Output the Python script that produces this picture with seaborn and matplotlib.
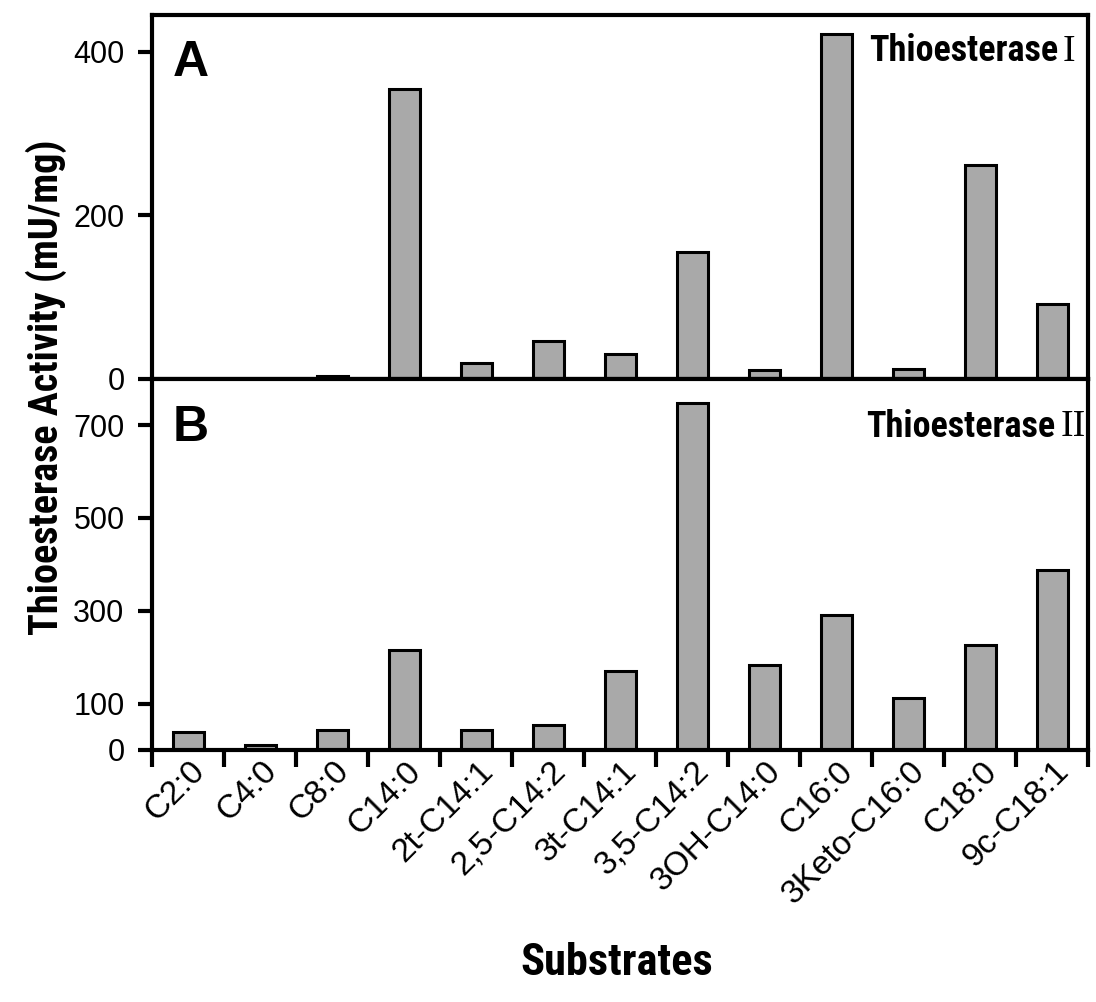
import numpy as np
import pandas as pd
import seaborn as sns
import matplotlib.pyplot as plt
from matplotlib import font_manager
from matplotlib.ticker import FixedLocator
from matplotlib.transforms import ScaledTranslation

substrates = ['C2:0', 'C4:0', 'C8:0', 'C14:0', '2t-C14:1', '2,5-C14:2', '3t-C14:1',
              '3,5-C14:2', '3OH-C14:0', 'C16:0', '3Keto-C16:0', 'C18:0', '9c-C18:1']
activity_te1 = [0, 0, 3, 355, 19, 46, 30, 155, 11, 422, 12, 261, 92]
activity_te2 = [39, 10, 44, 215, 44, 53, 171, 748, 183, 290, 111, 227, 387]

sns.set_style('ticks')
plt.rcParams['font.family'] = ['Liberation Sans', 'DejaVu Sans']
for k in ('text.color', 'axes.labelcolor', 'xtick.color', 'ytick.color', 'axes.edgecolor'):
    plt.rcParams[k] = 'black'

# narrow bold face for the titles, if one is installed
names = {f.name for f in font_manager.fontManager.ttflist}
narrow = 'Liberation Sans'
for cand in ['Liberation Sans Narrow', 'DejaVu Sans Condensed', 'Roboto Condensed',
             'Open Sans Condensed', 'Noto Sans Condensed']:
    if cand in names:
        narrow = cand
        break

df = pd.DataFrame({'substrate': substrates, 'te1': activity_te1, 'te2': activity_te2})

fig = plt.figure(figsize=(10.96, 10.02), dpi=100)
ax1 = fig.add_axes([0.139, 0.622, 0.854, 0.363])
ax2 = fig.add_axes([0.139, 0.2515, 0.854, 0.3705], sharex=ax1)

bar_kw = dict(color='#a9a9a9', edgecolor='black', linewidth=2.2, width=0.43, saturation=1)
sns.barplot(data=df, x='substrate', y='te1', ax=ax1, **bar_kw)
sns.barplot(data=df, x='substrate', y='te2', ax=ax2, **bar_kw)

for ax in (ax1, ax2):
    for sp in ax.spines.values():
        sp.set_linewidth(3)
    ax.set_xlabel('')
    ax.set_ylabel('')
    ax.tick_params(axis='y', direction='out', length=10, width=3, labelsize=22, pad=10)
    ax.set_xlim(-0.5, len(substrates) - 0.5)

ax1.set_ylim(0, 445)
ax1.set_yticks([0, 200, 400])
ax2.set_ylim(0, 800)
ax2.set_yticks([0, 100, 300, 500, 700])

# category labels at bar centres, tick marks at category boundaries
ax1.tick_params(axis='x', which='both', length=0, labelbottom=False)
ax2.xaxis.set_major_locator(FixedLocator(np.arange(len(substrates))))
ax2.set_xticklabels(substrates)
ax2.xaxis.set_minor_locator(FixedLocator(np.arange(-0.5, len(substrates), 1.0)))
ax2.tick_params(axis='x', which='major', length=0, labelsize=24, pad=12)
ax2.tick_params(axis='x', which='minor', direction='out', length=12, width=3)
shift = ScaledTranslation(12 / 100, 0, fig.dpi_scale_trans)
for lab in ax2.get_xticklabels():
    lab.set_rotation(45)
    lab.set_ha('right')
    lab.set_va('center')
    lab.set_rotation_mode('anchor')
    lab.set_transform(lab.get_transform() + shift)

ax1.text(0.022, 0.93, 'A', transform=ax1.transAxes, fontsize=36, fontweight='bold', va='top')
ax2.text(0.022, 0.93, 'B', transform=ax2.transAxes, fontsize=36, fontweight='bold', va='top')

ax1.text(0.968, 0.9, 'Thioesterase', transform=ax1.transAxes, fontsize=26, fontweight='bold',
         family=narrow, ha='right', va='center')
ax1.text(0.973, 0.9, 'I', transform=ax1.transAxes, fontsize=27, family='Liberation Serif',
         ha='left', va='center')
ax2.text(0.965, 0.87, 'Thioesterase', transform=ax2.transAxes, fontsize=26, fontweight='bold',
         family=narrow, ha='right', va='center')
ax2.text(0.97, 0.87, 'II', transform=ax2.transAxes, fontsize=27, family='Liberation Serif',
         ha='left', va='center')

fig.text(0.042, 0.614, 'Thioesterase Activity (mU/mg)', rotation=90, fontsize=29,
         fontweight='bold', family=narrow, ha='center', va='center')
fig.text(0.563, 0.039, 'Substrates', fontsize=32, fontweight='bold', family=narrow,
         ha='center', va='center')

fig.savefig('out.png', dpi=100, facecolor='white')
